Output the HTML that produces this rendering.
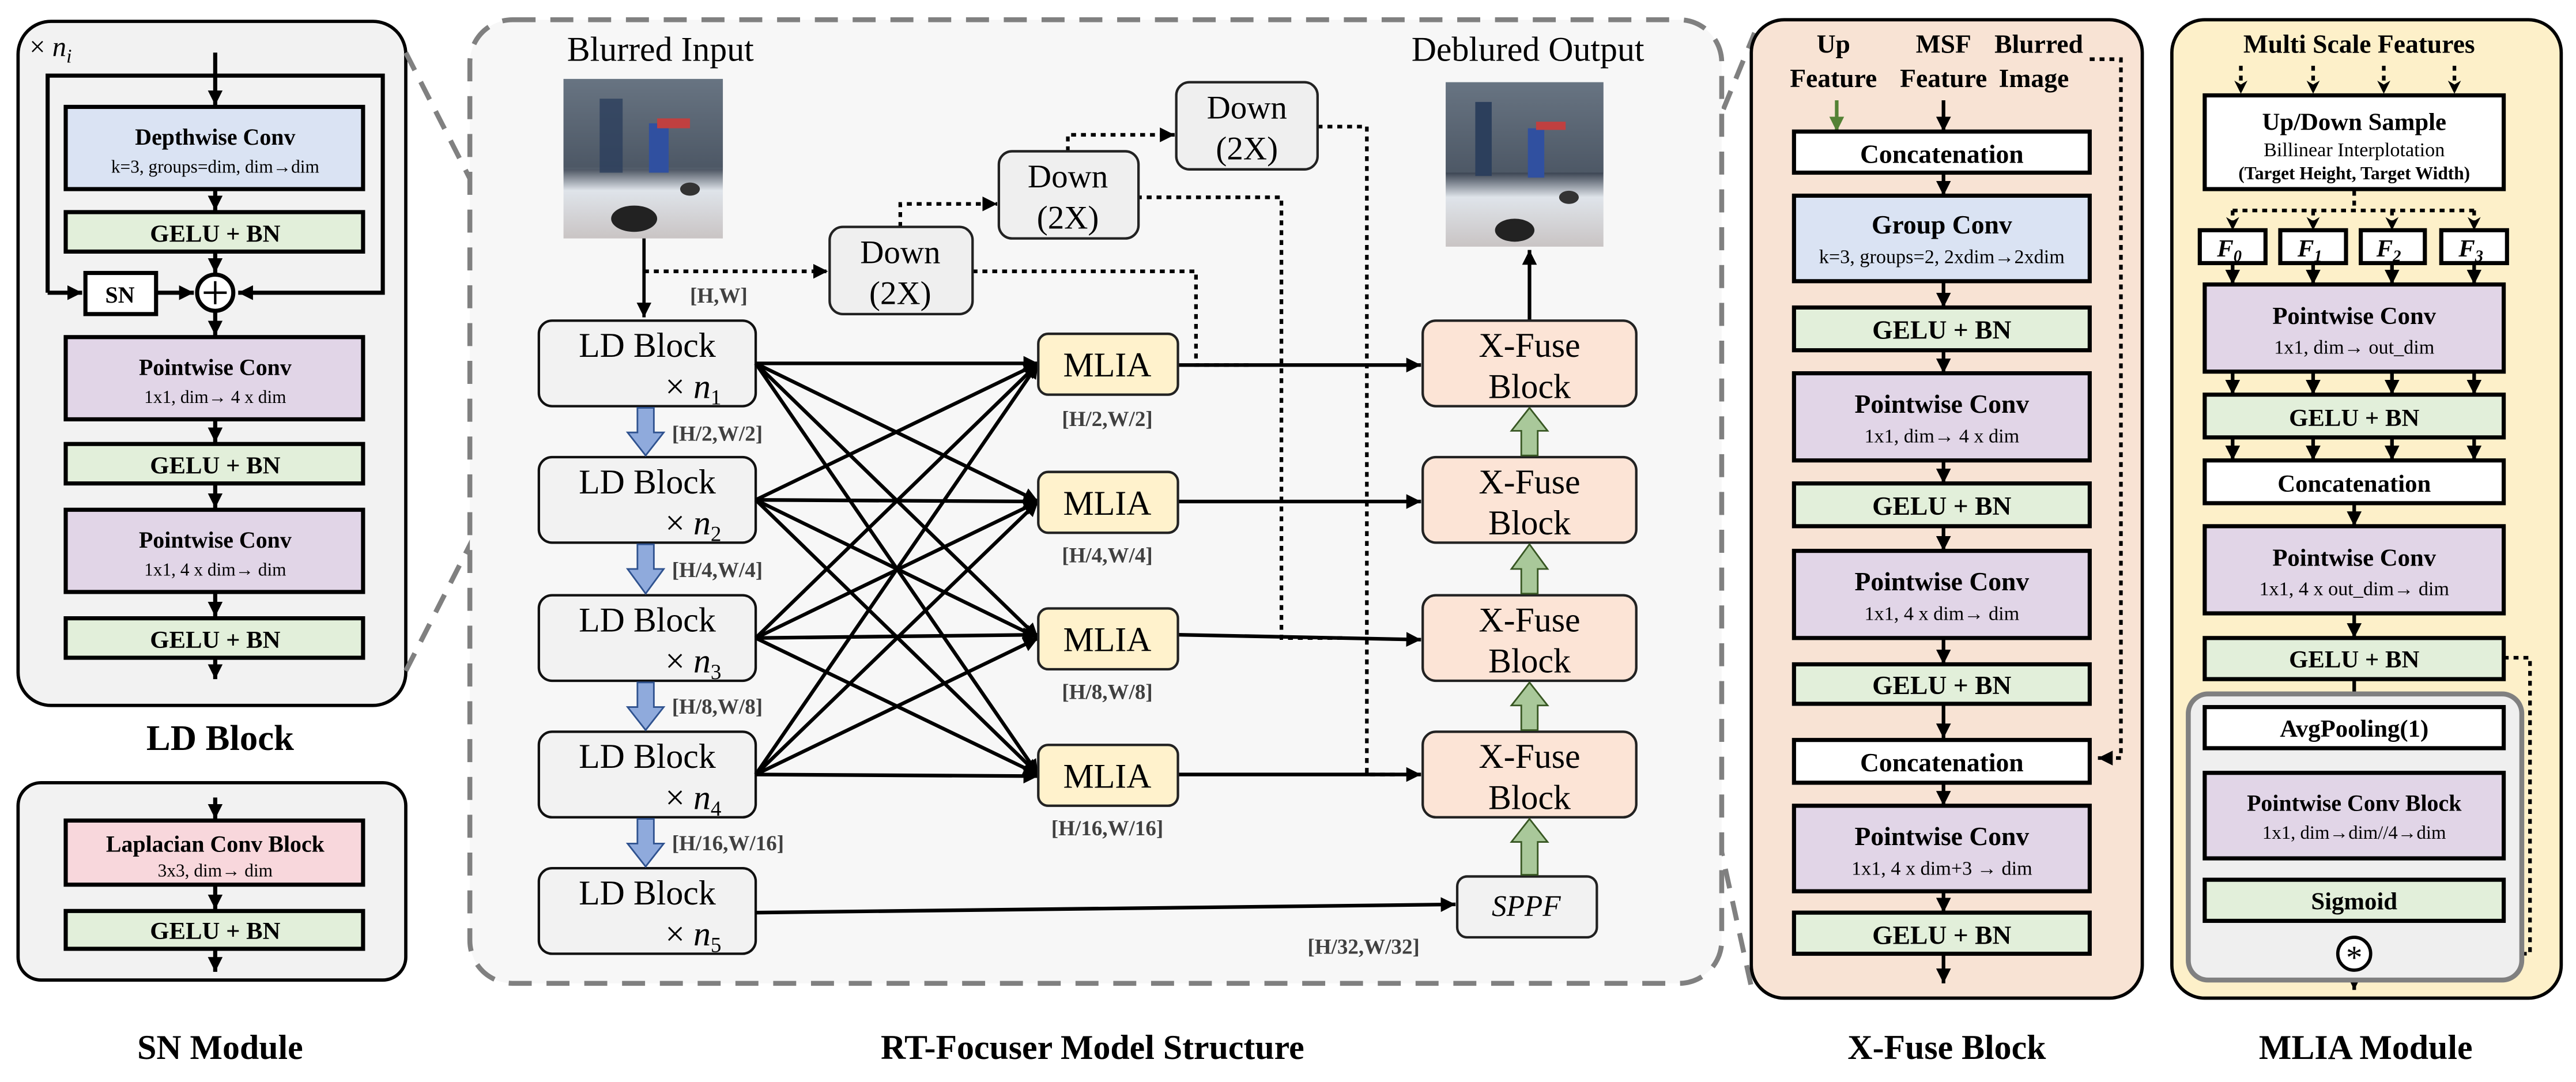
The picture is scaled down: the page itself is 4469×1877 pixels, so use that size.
<!DOCTYPE html>
<html><head><meta charset="utf-8"><style>
html,body{margin:0;padding:0;background:#fff;}
svg{display:block;}
svg, svg text, svg tspan{font-family:"Liberation Serif","Times New Roman",serif;}
</style></head><body>
<svg width="4469" height="1877" viewBox="0 0 1568 658" preserveAspectRatio="none" xmlns="http://www.w3.org/2000/svg" font-family="Liberation Serif, serif">
<defs>
<marker id="a" viewBox="0 0 10 10" refX="10" refY="5" markerWidth="8" markerHeight="8" markerUnits="userSpaceOnUse" orient="auto"><path d="M0,0L10,5L0,10L3,5z"/></marker>
<marker id="b" viewBox="0 0 10 10" refX="10" refY="5" markerWidth="9" markerHeight="9" markerUnits="userSpaceOnUse" orient="auto"><path d="M0,0L10,5L0,10z"/></marker>
<marker id="g" viewBox="0 0 10 10" refX="10" refY="5" markerWidth="9" markerHeight="9" markerUnits="userSpaceOnUse" orient="auto"><path d="M0,0L10,5L0,10z" fill="#548235"/></marker>
<linearGradient id="img" x1="0" y1="0" x2="0" y2="1"><stop offset="0" stop-color="#7d8a99"/><stop offset="0.55" stop-color="#3b4452"/><stop offset="0.7" stop-color="#dfe4ea"/><stop offset="1" stop-color="#c9c4c4"/></linearGradient>
</defs>

<!-- ========== LD Block panel ========== -->
<rect x="11" y="13" width="236" height="416" rx="20" fill="#f2f2f2" stroke="#000" stroke-width="2"/>
<text x="18" y="34" font-size="17">× <tspan font-style="italic">n</tspan><tspan font-style="italic" font-size="12" dy="4">i</tspan></text>
<g stroke="#000" stroke-width="2.5" fill="none">
<polyline points="29,178 29,46 233,46 233,178 145,178" marker-end="url(#b)"/>
<line x1="29" y1="178" x2="50" y2="178" marker-end="url(#b)"/>
<line x1="95" y1="178" x2="118" y2="178" marker-end="url(#b)"/>
<line x1="131" y1="32" x2="131" y2="64" marker-end="url(#b)"/>
<line x1="131" y1="115" x2="131" y2="128" marker-end="url(#b)"/>
<line x1="131" y1="153" x2="131" y2="166" marker-end="url(#b)"/>
<line x1="131" y1="190" x2="131" y2="204" marker-end="url(#b)"/>
<line x1="131" y1="254" x2="131" y2="269" marker-end="url(#b)"/>
<line x1="131" y1="294" x2="131" y2="309" marker-end="url(#b)"/>
<line x1="131" y1="360" x2="131" y2="375" marker-end="url(#b)"/>
<line x1="131" y1="400" x2="131" y2="413" marker-end="url(#b)"/>
</g>
<rect x="40" y="65" width="181" height="50" fill="#dae3f3" stroke="#000" stroke-width="2.5"/>
<text x="131" y="88" font-size="14" font-weight="bold" text-anchor="middle">Depthwise Conv</text>
<text x="131" y="105" font-size="11" text-anchor="middle">k=3, groups=dim, dim→dim</text>
<rect x="40" y="129" width="181" height="24" fill="#e2efda" stroke="#000" stroke-width="2.5"/>
<text x="131" y="147" font-size="15" font-weight="bold" text-anchor="middle">GELU + BN</text>
<rect x="52" y="166" width="43" height="25" fill="#fff" stroke="#000" stroke-width="2.5"/>
<text x="73" y="184" font-size="14" font-weight="bold" text-anchor="middle">SN</text>
<circle cx="131" cy="178" r="11" fill="#fff" stroke="#000" stroke-width="2.5"/>
<path d="M124,178H138M131,171V185" stroke="#000" stroke-width="1.5"/>
<rect x="40" y="205" width="181" height="50" fill="#e1d5e7" stroke="#000" stroke-width="2.5"/>
<text x="131" y="228" font-size="14" font-weight="bold" text-anchor="middle">Pointwise Conv</text>
<text x="131" y="245" font-size="11" text-anchor="middle">1x1, dim→ 4 x dim</text>
<rect x="40" y="270" width="181" height="24" fill="#e2efda" stroke="#000" stroke-width="2.5"/>
<text x="131" y="288" font-size="15" font-weight="bold" text-anchor="middle">GELU + BN</text>
<rect x="40" y="310" width="181" height="50" fill="#e1d5e7" stroke="#000" stroke-width="2.5"/>
<text x="131" y="333" font-size="14" font-weight="bold" text-anchor="middle">Pointwise Conv</text>
<text x="131" y="350" font-size="11" text-anchor="middle">1x1, 4 x dim→ dim</text>
<rect x="40" y="376" width="181" height="24" fill="#e2efda" stroke="#000" stroke-width="2.5"/>
<text x="131" y="394" font-size="15" font-weight="bold" text-anchor="middle">GELU + BN</text>
<text x="134" y="456" font-size="22" font-weight="bold" text-anchor="middle">LD Block</text>

<!-- ========== SN Module ========== -->
<rect x="11" y="476" width="236" height="120" rx="14" fill="#f2f2f2" stroke="#000" stroke-width="2"/>
<g stroke="#000" stroke-width="2.5">
<line x1="131" y1="485" x2="131" y2="498" marker-end="url(#b)"/>
<line x1="131" y1="538" x2="131" y2="553" marker-end="url(#b)"/>
<line x1="131" y1="577" x2="131" y2="591" marker-end="url(#b)"/>
</g>
<rect x="40" y="499" width="181" height="39" fill="#f8d7dc" stroke="#000" stroke-width="2.5"/>
<text x="131" y="518" font-size="14" font-weight="bold" text-anchor="middle">Laplacian Conv Block</text>
<text x="131" y="533" font-size="11" text-anchor="middle">3x3, dim→ dim</text>
<rect x="40" y="554" width="181" height="23" fill="#e2efda" stroke="#000" stroke-width="2.5"/>
<text x="131" y="571" font-size="15" font-weight="bold" text-anchor="middle">GELU + BN</text>
<text x="134" y="644" font-size="21" font-weight="bold" text-anchor="middle">SN Module</text>

<!-- zoom dashed lines -->
<g stroke="#808080" stroke-width="3" stroke-dasharray="12,8" fill="none">
<line x1="247" y1="32" x2="330" y2="195"/>
<line x1="247" y1="408" x2="330" y2="245"/>
<line x1="996" y1="196" x2="1068" y2="20"/>
<line x1="990" y1="255" x2="1066" y2="600"/>
</g>

<!-- ========== Main panel ========== -->
<rect x="286" y="12" width="762" height="586" rx="26" fill="#f7f7f7" stroke="#808080" stroke-width="3" stroke-dasharray="14,9"/>
<text x="402" y="37" font-size="21" text-anchor="middle">Blurred Input</text>
<text x="930" y="37" font-size="21" text-anchor="middle">Deblured Output</text>
<g>
<rect x="343" y="48" width="97" height="97" fill="url(#img)"/>
<rect x="343" y="48" width="97" height="55" fill="#5a6573" opacity="0.6"/>
<rect x="365" y="60" width="14" height="45" fill="#2c3f5c" opacity="0.8"/>
<rect x="395" y="75" width="12" height="30" fill="#3050a0"/>
<rect x="400" y="72" width="20" height="6" fill="#c04040"/>
<ellipse cx="386" cy="133" rx="14" ry="8" fill="#222"/>
<ellipse cx="420" cy="115" rx="6" ry="4" fill="#333"/>
<rect x="880" y="50" width="96" height="100" fill="url(#img)"/>
<rect x="880" y="50" width="96" height="55" fill="#5a6573" opacity="0.6"/>
<rect x="898" y="62" width="10" height="45" fill="#2c3f5c"/>
<rect x="930" y="78" width="10" height="30" fill="#3050a0"/>
<rect x="935" y="74" width="18" height="5" fill="#c04040"/>
<ellipse cx="922" cy="140" rx="12" ry="7" fill="#222"/>
<ellipse cx="955" cy="120" rx="6" ry="4" fill="#333"/>
</g>

<g stroke="#000" stroke-width="2.2" stroke-dasharray="3,3" fill="none">
<polyline points="392,165 504,165" marker-end="url(#b)"/>
<polyline points="548,138 548,124 607,124" marker-end="url(#b)"/>
<polyline points="650,92 650,82 715,82" marker-end="url(#b)"/>
<polyline points="592,165 728,165 728,222 760,222"/>
<polyline points="692,120 780,120 780,388 820,388"/>
<polyline points="802,77 832,77 832,471 850,471"/>
</g>
<line x1="392" y1="145" x2="392" y2="193" stroke="#000" stroke-width="2" marker-end="url(#b)"/>
<text x="420" y="184" font-size="13" font-weight="bold" fill="#404040">[H,W]</text>

<g fill="#efefef" stroke="#222" stroke-width="1.5">
<rect x="505" y="138" width="87" height="53" rx="8"/>
<rect x="608" y="92" width="85" height="53" rx="8"/>
<rect x="716" y="50" width="86" height="53" rx="8"/>
</g>
<g font-size="20" text-anchor="middle">
<text x="548" y="160">Down</text><text x="548" y="185">(2X)</text>
<text x="650" y="114">Down</text><text x="650" y="139">(2X)</text>
<text x="759" y="72">Down</text><text x="759" y="97">(2X)</text>
</g>

<g fill="#f2f2f2" stroke="#111" stroke-width="1.5">
<rect x="328" y="195" width="132" height="52" rx="8"/>
<rect x="328" y="278" width="132" height="52" rx="8"/>
<rect x="328" y="362" width="132" height="52" rx="8"/>
<rect x="328" y="445" width="132" height="52" rx="8"/>
<rect x="328" y="528" width="132" height="52" rx="8"/>
</g>
<g font-size="21">
<text x="394" y="217" text-anchor="middle">LD Block</text><text x="405" y="242">× <tspan font-style="italic">n</tspan><tspan font-size="13" dy="4">1</tspan></text>
<text x="394" y="300" text-anchor="middle">LD Block</text><text x="405" y="325">× <tspan font-style="italic">n</tspan><tspan font-size="13" dy="4">2</tspan></text>
<text x="394" y="384" text-anchor="middle">LD Block</text><text x="405" y="409">× <tspan font-style="italic">n</tspan><tspan font-size="13" dy="4">3</tspan></text>
<text x="394" y="467" text-anchor="middle">LD Block</text><text x="405" y="492">× <tspan font-style="italic">n</tspan><tspan font-size="13" dy="4">4</tspan></text>
<text x="394" y="550" text-anchor="middle">LD Block</text><text x="405" y="575">× <tspan font-style="italic">n</tspan><tspan font-size="13" dy="4">5</tspan></text>
</g>
<g fill="#8faadc" stroke="#2f528f" stroke-width="1">
<path d="M388,248H398V263H404L393,277L382,263H388Z"/>
<path d="M388,331H398V346H404L393,361L382,346H388Z"/>
<path d="M388,415H398V430H404L393,444L382,430H388Z"/>
<path d="M388,498H398V513H404L393,527L382,513H388Z"/>
</g>
<g font-size="13" font-weight="bold" fill="#404040">
<text x="409" y="268">[H/2,W/2]</text>
<text x="409" y="351">[H/4,W/4]</text>
<text x="409" y="434">[H/8,W/8]</text>
<text x="409" y="517">[H/16,W/16]</text>
</g>

<g stroke="#000" stroke-width="2.2" marker-end="url(#b)">
<line x1="460" y1="221" x2="632" y2="221"/><line x1="460" y1="221" x2="632" y2="305"/><line x1="460" y1="221" x2="632" y2="388"/><line x1="460" y1="221" x2="632" y2="471"/>
<line x1="460" y1="304" x2="632" y2="221"/><line x1="460" y1="304" x2="632" y2="305"/><line x1="460" y1="304" x2="632" y2="388"/><line x1="460" y1="304" x2="632" y2="471"/>
<line x1="460" y1="388" x2="632" y2="221"/><line x1="460" y1="388" x2="632" y2="305"/><line x1="460" y1="388" x2="632" y2="386"/><line x1="460" y1="388" x2="632" y2="471"/>
<line x1="460" y1="471" x2="632" y2="221"/><line x1="460" y1="471" x2="632" y2="305"/><line x1="460" y1="471" x2="632" y2="388"/><line x1="460" y1="471" x2="632" y2="472"/>
<line x1="717" y1="222" x2="865" y2="222"/>
<line x1="717" y1="305" x2="865" y2="305"/>
<line x1="717" y1="386" x2="865" y2="389"/>
<line x1="717" y1="471" x2="865" y2="471"/>
<line x1="460" y1="555" x2="886" y2="550"/>
<line x1="931" y1="195" x2="931" y2="152"/>
</g>
<g fill="#fff2cc" stroke="#222" stroke-width="1.5">
<rect x="632" y="203" width="85" height="37" rx="6"/>
<rect x="632" y="287" width="85" height="37" rx="6"/>
<rect x="632" y="370" width="85" height="37" rx="6"/>
<rect x="632" y="453" width="85" height="37" rx="6"/>
</g>
<g font-size="21" text-anchor="middle">
<text x="674" y="229">MLIA</text><text x="674" y="313">MLIA</text><text x="674" y="396">MLIA</text><text x="674" y="479">MLIA</text>
</g>
<g font-size="13" font-weight="bold" fill="#404040" text-anchor="middle">
<text x="674" y="259">[H/2,W/2]</text><text x="674" y="342">[H/4,W/4]</text><text x="674" y="425">[H/8,W/8]</text><text x="674" y="508">[H/16,W/16]</text>
<text x="830" y="580">[H/32,W/32]</text>
</g>
<g fill="#fce4d6" stroke="#222" stroke-width="1.5">
<rect x="866" y="195" width="130" height="52" rx="8"/>
<rect x="866" y="278" width="130" height="52" rx="8"/>
<rect x="866" y="362" width="130" height="52" rx="8"/>
<rect x="866" y="445" width="130" height="52" rx="8"/>
</g>
<g font-size="21" text-anchor="middle">
<text x="931" y="217">X-Fuse</text><text x="931" y="242">Block</text>
<text x="931" y="300">X-Fuse</text><text x="931" y="325">Block</text>
<text x="931" y="384">X-Fuse</text><text x="931" y="409">Block</text>
<text x="931" y="467">X-Fuse</text><text x="931" y="492">Block</text>
</g>
<rect x="887" y="533" width="85" height="37" rx="6" fill="#f2f2f2" stroke="#222" stroke-width="1.5"/>
<text x="929" y="557" font-size="18" font-style="italic" text-anchor="middle">SPPF</text>
<g fill="#a9c89a" stroke="#385723" stroke-width="1">
<path d="M926,277V262H920L931,248L942,262H936V277Z"/>
<path d="M926,361V346H920L931,331L942,346H936V361Z"/>
<path d="M926,444V429H920L931,415L942,429H936V444Z"/>
<path d="M926,532V512H920L931,498L942,512H936V532Z"/>
</g>
<text x="665" y="644" font-size="21" font-weight="bold" text-anchor="middle">RT-Focuser Model Structure</text>

<!-- ========== X-Fuse panel ========== -->
<rect x="1066" y="12" width="238" height="595" rx="20" fill="#f8e3d4" stroke="#000" stroke-width="2"/>
<g font-size="16" font-weight="bold" text-anchor="middle">
<text x="1116" y="32">Up</text><text x="1116" y="53">Feature</text>
<text x="1183" y="32">MSF</text><text x="1183" y="53">Feature</text>
<text x="1241" y="32">Blurred</text><text x="1238" y="53">Image</text>
</g>
<polyline points="1272,36 1291,36 1291,461 1277,461" stroke="#000" stroke-width="2.2" stroke-dasharray="3,3" fill="none" marker-end="url(#b)"/>
<line x1="1118" y1="61" x2="1118" y2="80" stroke="#548235" stroke-width="2.2" marker-end="url(#g)"/>
<g stroke="#000" stroke-width="2.2" marker-end="url(#b)">
<line x1="1183" y1="61" x2="1183" y2="80"/>
<line x1="1183" y1="105" x2="1183" y2="119"/>
<line x1="1183" y1="171" x2="1183" y2="187"/>
<line x1="1183" y1="213" x2="1183" y2="227"/>
<line x1="1183" y1="280" x2="1183" y2="294"/>
<line x1="1183" y1="320" x2="1183" y2="335"/>
<line x1="1183" y1="388" x2="1183" y2="404"/>
<line x1="1183" y1="428" x2="1183" y2="449"/>
<line x1="1183" y1="476" x2="1183" y2="490"/>
<line x1="1183" y1="542" x2="1183" y2="555"/>
<line x1="1183" y1="580" x2="1183" y2="598"/>
</g>
<g stroke="#000" stroke-width="2.5">
<rect x="1092" y="80" width="180" height="25" fill="#fff"/>
<rect x="1092" y="119" width="180" height="52" fill="#dae3f3"/>
<rect x="1092" y="187" width="180" height="26" fill="#e2efda"/>
<rect x="1092" y="227" width="180" height="53" fill="#e1d5e7"/>
<rect x="1092" y="294" width="180" height="26" fill="#e2efda"/>
<rect x="1092" y="335" width="180" height="53" fill="#e1d5e7"/>
<rect x="1092" y="404" width="180" height="24" fill="#e2efda"/>
<rect x="1092" y="450" width="180" height="26" fill="#fff"/>
<rect x="1092" y="490" width="180" height="52" fill="#e1d5e7"/>
<rect x="1092" y="555" width="180" height="25" fill="#e2efda"/>
</g>
<g text-anchor="middle">
<text x="1182" y="99" font-size="16" font-weight="bold">Concatenation</text>
<text x="1182" y="142" font-size="16" font-weight="bold">Group Conv</text>
<text x="1182" y="160" font-size="12">k=3, groups=2, 2xdim→2xdim</text>
<text x="1182" y="206" font-size="16" font-weight="bold">GELU + BN</text>
<text x="1182" y="251" font-size="16" font-weight="bold">Pointwise Conv</text>
<text x="1182" y="269" font-size="12">1x1, dim→ 4 x dim</text>
<text x="1182" y="313" font-size="16" font-weight="bold">GELU + BN</text>
<text x="1182" y="359" font-size="16" font-weight="bold">Pointwise Conv</text>
<text x="1182" y="377" font-size="12">1x1, 4 x dim→ dim</text>
<text x="1182" y="422" font-size="16" font-weight="bold">GELU + BN</text>
<text x="1182" y="469" font-size="16" font-weight="bold">Concatenation</text>
<text x="1182" y="514" font-size="16" font-weight="bold">Pointwise Conv</text>
<text x="1182" y="532" font-size="12">1x1, 4 x dim+3 → dim</text>
<text x="1182" y="574" font-size="16" font-weight="bold">GELU + BN</text>
</g>
<text x="1185" y="644" font-size="21" font-weight="bold" text-anchor="middle">X-Fuse Block</text>

<!-- ========== MLIA panel ========== -->
<rect x="1322" y="12" width="237" height="595" rx="20" fill="#fdf0c9" stroke="#000" stroke-width="2"/>
<text x="1436" y="32" font-size="16" font-weight="bold" text-anchor="middle">Multi Scale Features</text>
<g stroke="#000" stroke-width="2.2" stroke-dasharray="3,3" fill="none">
<line x1="1364" y1="40" x2="1364" y2="57" marker-end="url(#a)"/>
<line x1="1408" y1="40" x2="1408" y2="57" marker-end="url(#a)"/>
<line x1="1451" y1="40" x2="1451" y2="57" marker-end="url(#a)"/>
<line x1="1494" y1="40" x2="1494" y2="57" marker-end="url(#a)"/>
<polyline points="1433,116 1433,128"/>
<line x1="1359" y1="128" x2="1508" y2="128"/>
<line x1="1359" y1="128" x2="1359" y2="140" marker-end="url(#a)"/>
<line x1="1408" y1="128" x2="1408" y2="140" marker-end="url(#a)"/>
<line x1="1456" y1="128" x2="1456" y2="140" marker-end="url(#a)"/>
<line x1="1506" y1="128" x2="1506" y2="140" marker-end="url(#a)"/>
<polyline points="1524,400 1540,400 1540,580 1445,580" marker-end="url(#a)"/>
</g>
<g stroke="#000" stroke-width="2.2" marker-end="url(#b)">
<line x1="1359" y1="160" x2="1359" y2="173"/><line x1="1408" y1="160" x2="1408" y2="173"/><line x1="1456" y1="160" x2="1456" y2="173"/><line x1="1506" y1="160" x2="1506" y2="173"/>
<line x1="1359" y1="226" x2="1359" y2="240"/><line x1="1408" y1="226" x2="1408" y2="240"/><line x1="1456" y1="226" x2="1456" y2="240"/><line x1="1506" y1="226" x2="1506" y2="240"/>
<line x1="1359" y1="266" x2="1359" y2="280"/><line x1="1408" y1="266" x2="1408" y2="280"/><line x1="1456" y1="266" x2="1456" y2="280"/><line x1="1506" y1="266" x2="1506" y2="280"/>
<line x1="1433" y1="306" x2="1433" y2="320"/>
<line x1="1433" y1="373" x2="1433" y2="388"/>
<line x1="1433" y1="413" x2="1433" y2="430"/>
<line x1="1433" y1="455" x2="1433" y2="470"/>
<line x1="1433" y1="522" x2="1433" y2="535"/>
<line x1="1433" y1="560" x2="1433" y2="570"/>
<line x1="1433" y1="590" x2="1433" y2="602"/>
</g>
<rect x="1332" y="422" width="203" height="174" rx="12" fill="#efefef" stroke="#808080" stroke-width="3"/>
<g stroke="#000" stroke-width="2.5">
<rect x="1342" y="58" width="182" height="57" fill="#fff"/>
<rect x="1339" y="140" width="40" height="20" fill="#fff"/>
<rect x="1388" y="140" width="40" height="20" fill="#fff"/>
<rect x="1437" y="140" width="39" height="20" fill="#fff"/>
<rect x="1486" y="140" width="40" height="20" fill="#fff"/>
<rect x="1342" y="173" width="182" height="53" fill="#e1d5e7"/>
<rect x="1342" y="240" width="182" height="26" fill="#e2efda"/>
<rect x="1342" y="280" width="182" height="26" fill="#fff"/>
<rect x="1342" y="320" width="182" height="53" fill="#e1d5e7"/>
<rect x="1342" y="388" width="182" height="25" fill="#e2efda"/>
<rect x="1342" y="430" width="182" height="25" fill="#fff"/>
<rect x="1342" y="470" width="182" height="52" fill="#e1d5e7"/>
<rect x="1342" y="535" width="182" height="25" fill="#e2efda"/>
</g>
<circle cx="1433" cy="580" r="10" fill="#fff" stroke="#000" stroke-width="2"/>
<text x="1433" y="589" font-size="20" text-anchor="middle">*</text>
<g text-anchor="middle">
<text x="1433" y="79" font-size="15" font-weight="bold">Up/Down Sample</text>
<text x="1433" y="95" font-size="12">Billinear Interplotation</text>
<text x="1433" y="109" font-size="11" font-weight="bold">(Target Height, Target Width)</text>
<g font-size="15" font-weight="bold" font-style="italic">
<text x="1357" y="156">F<tspan font-size="10" dy="3">0</tspan></text>
<text x="1406" y="156">F<tspan font-size="10" dy="3">1</tspan></text>
<text x="1454" y="156">F<tspan font-size="10" dy="3">2</tspan></text>
<text x="1504" y="156">F<tspan font-size="10" dy="3">3</tspan></text>
</g>
<text x="1433" y="197" font-size="15" font-weight="bold">Pointwise Conv</text>
<text x="1433" y="215" font-size="12">1x1, dim→ out_dim</text>
<text x="1433" y="259" font-size="15" font-weight="bold">GELU + BN</text>
<text x="1433" y="299" font-size="15" font-weight="bold">Concatenation</text>
<text x="1433" y="344" font-size="15" font-weight="bold">Pointwise Conv</text>
<text x="1433" y="362" font-size="12">1x1, 4 x out_dim→ dim</text>
<text x="1433" y="406" font-size="15" font-weight="bold">GELU + BN</text>
<text x="1433" y="448" font-size="15" font-weight="bold">AvgPooling(1)</text>
<text x="1433" y="493" font-size="14" font-weight="bold">Pointwise Conv Block</text>
<text x="1433" y="510" font-size="11.5">1x1, dim→dim//4→dim</text>
<text x="1433" y="553" font-size="15" font-weight="bold">Sigmoid</text>
</g>
<text x="1440" y="644" font-size="21" font-weight="bold" text-anchor="middle">MLIA Module</text>
</svg>
</body></html>
